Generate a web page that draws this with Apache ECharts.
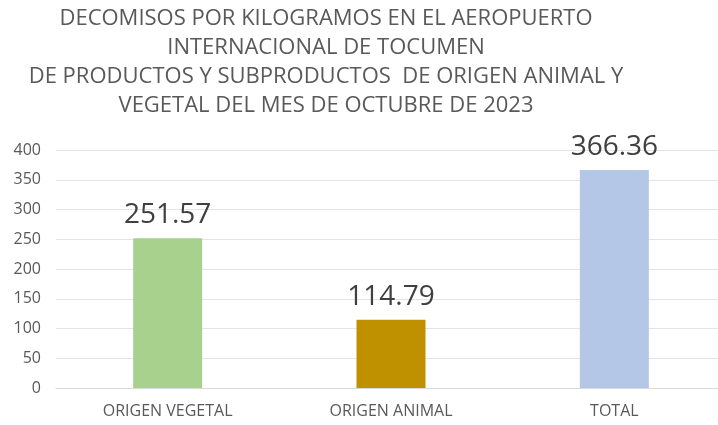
<!DOCTYPE html>
<html>
<head>
<meta charset="utf-8">
<script src="https://cdn.jsdelivr.net/npm/echarts@6/dist/echarts.min.js"></script>
<style>
  html, body { margin: 0; padding: 0; background: #fff; overflow: hidden; }
  #chart { width: 730px; height: 425px; }
</style>
</head>
<body>
<div id="chart"></div>
<script>
var categories = ['ORIGEN VEGETAL', 'ORIGEN ANIMAL', 'TOTAL'];
var values = [251.57, 114.79, 366.36];
var barColors = ['#A9D18E', '#BF9000', '#B4C7E7'];
var titleLines = [
  'DECOMISOS POR KILOGRAMOS EN EL AEROPUERTO',
  'INTERNACIONAL DE TOCUMEN',
  'DE PRODUCTOS Y SUBPRODUCTOS  DE ORIGEN ANIMAL Y',
  'VEGETAL DEL MES DE OCTUBRE DE 2023'
];

var font = '"Open Sans", "Noto Sans", sans-serif';
// the plot runs a little past the right edge of the window, so the div is wider
var chart = echarts.init(document.getElementById('chart'));

var option = {
  backgroundColor: '#fff',
  animation: false,
  title: {
    text: titleLines.join('\n'),
    left: 326,
    top: 4,
    padding: 0,
    textAlign: 'center',
    textStyle: {
      fontFamily: font,
      fontSize: 22,
      fontWeight: 'normal',
      color: '#595959',
      lineHeight: 29
    }
  },
  grid: {
    left: 56,
    top: 150,
    width: 670,
    height: 238,
    containLabel: false
  },
  xAxis: {
    type: 'category',
    data: categories,
    axisLine: { lineStyle: { color: '#d9d9d9' } },
    axisTick: { show: false },
    axisLabel: {
      fontFamily: font,
      fontSize: 16,
      color: '#595959',
      margin: 15
    }
  },
  yAxis: {
    type: 'value',
    min: 0,
    max: 400,
    interval: 50,
    axisLine: { show: false },
    axisTick: { show: false },
    splitLine: { lineStyle: { color: '#e4e4e4' } },
    axisLabel: {
      fontFamily: font,
      fontSize: 16,
      color: '#595959',
      margin: 15
    }
  },
  series: [{
    type: 'bar',
    barWidth: 69,
    data: values.map(function (v, i) {
      return { value: v, itemStyle: { color: barColors[i] } };
    }),
    label: {
      show: true,
      position: 'top',
      distance: 9,
      fontFamily: font,
      fontSize: 28,
      color: '#404040',
      formatter: function (p) { return p.value.toFixed(2); }
    }
  }]
};

chart.setOption(option);
</script>
</body>
</html>
